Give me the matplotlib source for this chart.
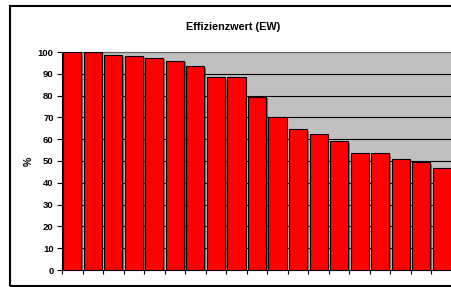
import matplotlib.pyplot as plt
import matplotlib.patheffects as pe
import numpy as np

# Effizienzwert values per unit, sorted
values = [100, 100, 98.6, 98.3, 97.4, 96.0, 93.4, 88.5, 88.4, 79.5,
          70.1, 64.6, 62.5, 59.0, 53.6, 53.6, 50.8, 49.6, 46.7]
y_ticks = [0, 10, 20, 30, 40, 50, 60, 70, 80, 90, 100]
title = 'Effizienzwert (EW)'

plt.rcParams['font.family'] = ['Liberation Sans', 'DejaVu Sans']

fig = plt.figure(figsize=(4.51, 2.87), dpi=100)

# outer chart frame
frame = plt.Rectangle((10 / 451, 1 / 287), 1.2, 280 / 287, transform=fig.transFigure,
                      fill=False, edgecolor='black', linewidth=1.5)
fig.patches.append(frame)

ax = fig.add_axes([62 / 451, 17 / 287, 390 / 451, 218 / 287])
ax.set_facecolor('#c0c0c0')

x = np.arange(len(values))
bars = ax.bar(x, values, width=0.88, color='#ff0000', edgecolor='black',
              linewidth=0.8, zorder=3)
for b in bars:
    b.set_path_effects([pe.SimplePatchShadow(offset=(1.2, -1.2), shadow_rgbFace='#404040', alpha=0.6),
                        pe.Normal()])

ax.set_xlim(-0.5, len(values) - 0.5)
ax.set_ylim(0, 100)
ax.set_yticks(y_ticks)
ax.set_yticklabels([str(t) for t in y_ticks], fontsize=6.8, fontweight='bold')
ax.set_xticks(np.arange(len(values) + 1) - 0.5)
ax.set_xticklabels([])
ax.tick_params(axis='x', direction='out', length=3, width=0.8)
ax.tick_params(axis='y', direction='out', length=3.5, width=0.8, pad=2.5)

ax.yaxis.grid(True, color='black', linewidth=0.8, zorder=1)
ax.set_axisbelow(True)

ax.spines['right'].set_visible(False)
ax.spines['top'].set_color('#606060')
ax.spines['left'].set_linewidth(0.8)
ax.spines['bottom'].set_linewidth(0.8)

ax.set_ylabel('%', fontsize=7.5, fontweight='bold', labelpad=3)
fig.text(233 / 451, 1 - 27 / 287, title, ha='center', va='center',
         fontsize=7.8, fontweight='bold')

fig.savefig('out.png', dpi=100)
